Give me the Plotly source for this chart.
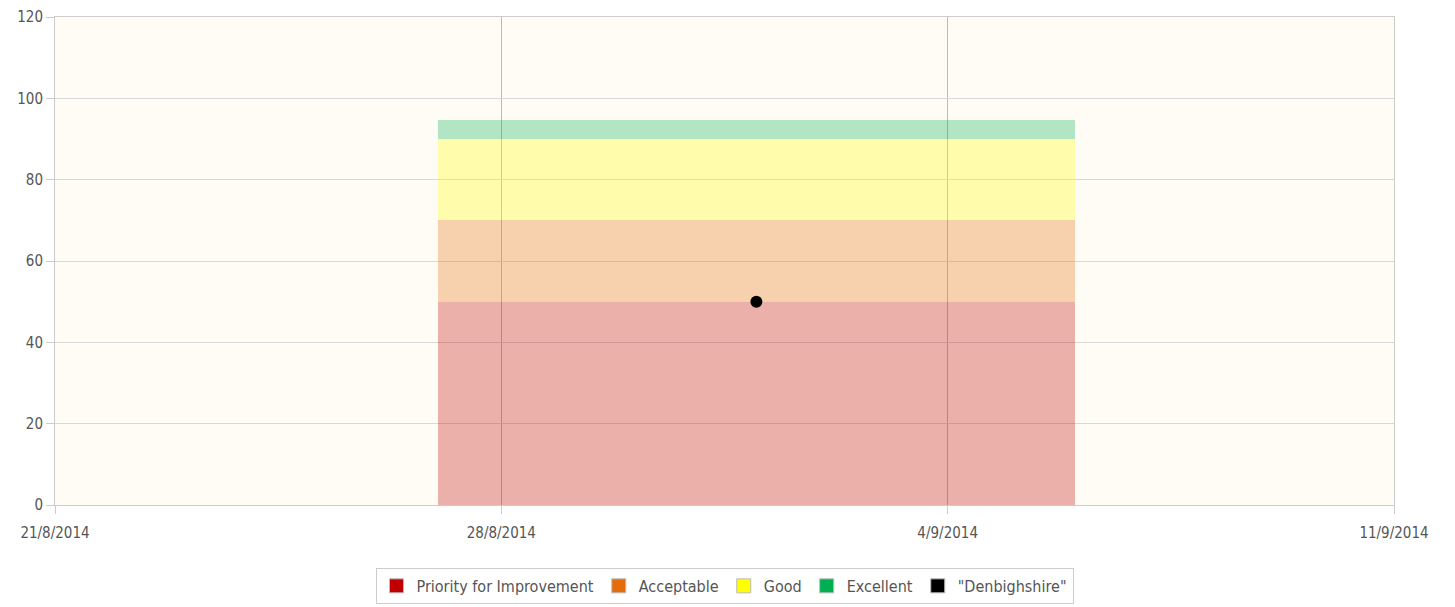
import plotly.graph_objects as go

bands = ["Priority for Improvement", "Acceptable", "Good", "Excellent"]
band_values = [50, 20, 20, 4.7]
band_colors = ["#c00000", "#e46c0a", "#ffff00", "#00b050"]
bar_date = "2014-09-01"
bar_days = 10

point_name = '"Denbighshire"'
point_dates = ["2014-09-01"]
point_values = [50]

tick_dates = ["2014-08-21", "2014-08-28", "2014-09-04", "2014-09-11"]
tick_labels = ["21/8/2014", "28/8/2014", "4/9/2014", "11/9/2014"]

font = "DejaVu Sans Condensed, Liberation Sans Narrow, sans-serif"

fig = go.Figure()
for name, val, col in zip(bands, band_values, band_colors):
    # translucent bar so the grid shows through
    fig.add_trace(go.Bar(
        x=[bar_date], y=[val], name=name,
        width=bar_days * 86400000,
        marker=dict(color=col, line=dict(width=0)),
        opacity=0.3, showlegend=False,
    ))

fig.add_trace(go.Scatter(
    x=point_dates, y=point_values, name=point_name, mode="markers",
    marker=dict(color="#000000", size=12), showlegend=False,
))

# legend entries with solid swatches
for name, col in zip(bands + [point_name], band_colors + ["#000000"]):
    fig.add_trace(go.Scatter(
        x=[None], y=[None], name=name, mode="markers",
        marker=dict(symbol="square", color=col, size=14,
                    line=dict(color="#bbbbbb", width=1)),
    ))

# page body has an 8px margin, so the figure is shifted by 8px
fig.update_layout(
    barmode="stack",
    width=1447, height=599,
    margin=dict(l=47, r=61, t=9, b=102, autoexpand=False),
    paper_bgcolor="white",
    plot_bgcolor="#fffcf5",
    font=dict(family=font, size=15, color="#555555"),
    legend=dict(
        orientation="h", x=0.5, xanchor="center", y=-0.129, yanchor="top",
        bordercolor="#cccccc", borderwidth=1, font=dict(size=16, color="#555555"),
        itemclick=False, traceorder="normal", itemwidth=30,
    ),
    showlegend=True,
)

fig.update_xaxes(
    type="date", range=["2014-08-21", "2014-09-11"],
    tickvals=tick_dates, ticktext=tick_labels,
    showgrid=True, gridcolor="#bbbbbb",
    showline=True, linecolor="#cccccc", mirror=True,
    ticks="outside", ticklen=8, tickcolor="#cccccc",
    ticklabelstandoff=6,
    zeroline=False, automargin=False,
)
fig.update_yaxes(
    range=[0, 120], dtick=20,
    showgrid=True, gridcolor="#d8d8d8",
    showline=True, linecolor="#cccccc", mirror=True,
    ticks="outside", ticklen=8, tickcolor="#cccccc",
    zeroline=False, automargin=False,
)

fig.write_html("out.html")
